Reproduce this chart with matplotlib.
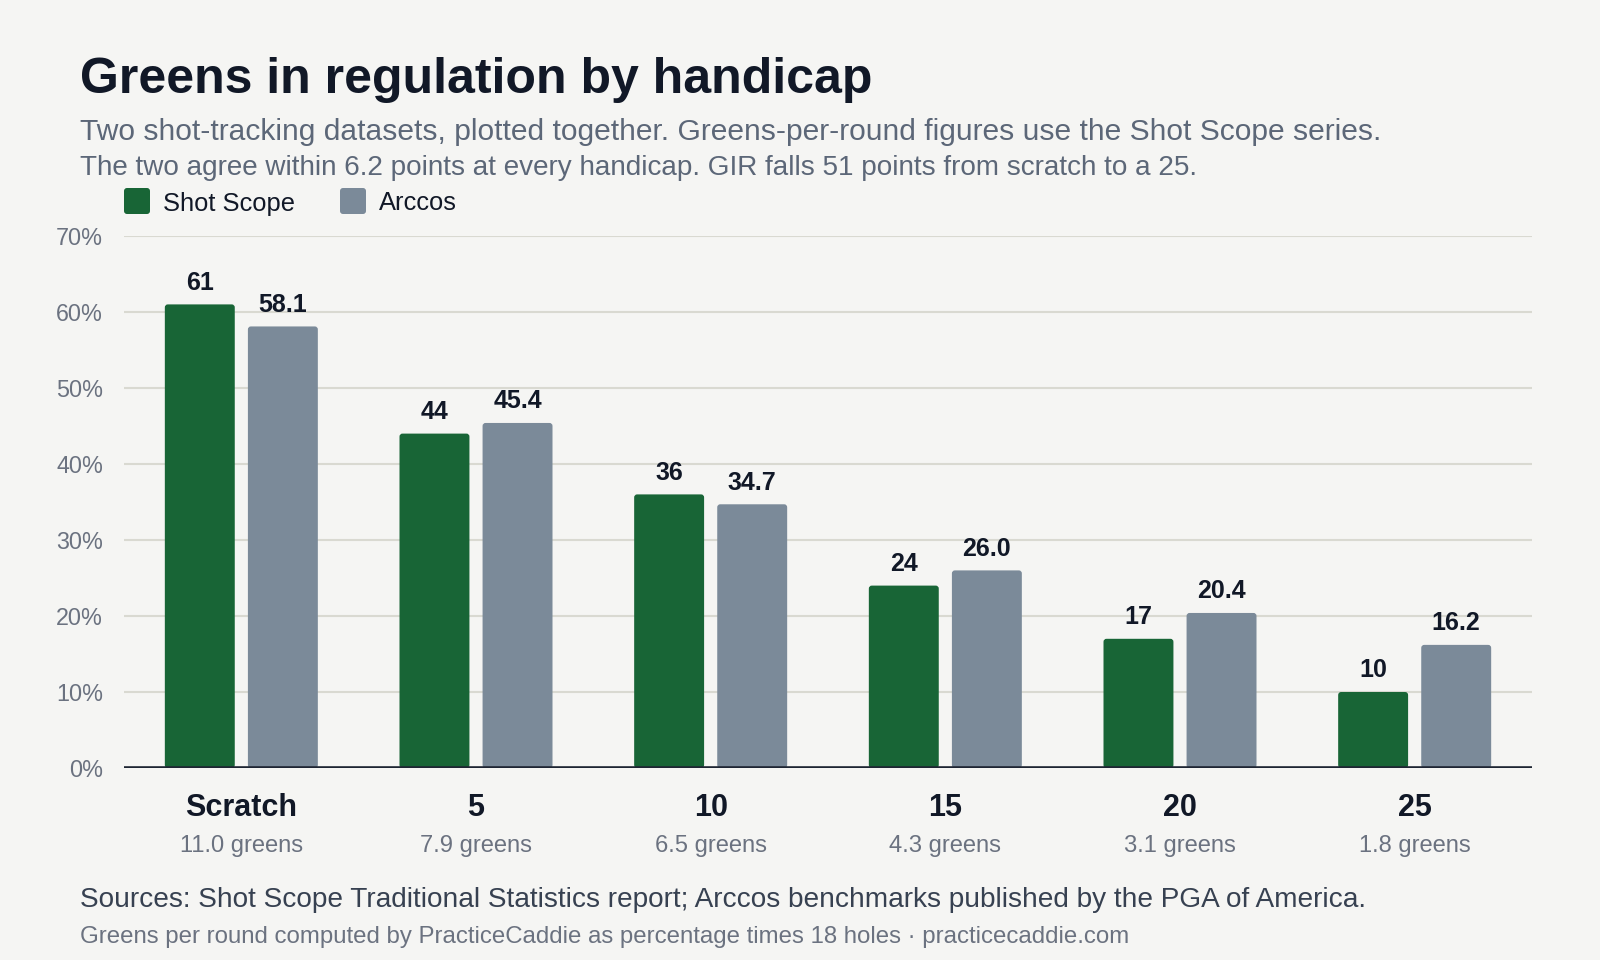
import matplotlib
matplotlib.use("Agg")
import matplotlib.pyplot as plt
from matplotlib.patches import FancyBboxPatch
from matplotlib.transforms import IdentityTransform
import numpy as np

plt.rcParams['font.family'] = ['Liberation Sans', 'DejaVu Sans']

# ---- data ----
categories = ["Scratch", "5", "10", "15", "20", "25"]
shot_scope = [61, 44, 36, 24, 17, 10]
arccos = [58.1, 45.4, 34.7, 26.0, 20.4, 16.2]
greens_per_round = [11.0, 7.9, 6.5, 4.3, 3.1, 1.8]
series_names = ["Shot Scope", "Arccos"]
y_ticks = [0, 10, 20, 30, 40, 50, 60, 70]

# ---- style ----
BG = "#f5f5f3"
GREEN = "#186536"
GREY = "#7b8a99"
DARK = "#111827"
SUB = "#5c6778"
TICK = "#6b7280"
GRID = "#d9d9d1"

W, H = 1600, 960
fig = plt.figure(figsize=(W / 100, H / 100), dpi=100, facecolor=BG)

def fy(px):
    return 1 - px / H

def fx(px):
    return px / W

ax_left, ax_right, ax_top, ax_bot = 124, 1532, 236, 768
ax = fig.add_axes([fx(ax_left), fy(ax_bot), (ax_right - ax_left) / W, (ax_bot - ax_top) / H])
ax.set_facecolor(BG)

x = np.arange(len(categories))
bw = 0.298
off = 0.177

b1 = ax.bar(x - off, shot_scope, width=bw, color=GREEN, zorder=3)
b2 = ax.bar(x + off, arccos, width=bw, color=GREY, zorder=3)

ax.set_xlim(-0.5, len(categories) - 0.5)
ax.set_ylim(0, 70)

# rounded corners: replace rectangles by rounded boxes in data coords
ax_w_px = ax_right - ax_left
ax_h_px = ax_bot - ax_top
x_per_px = (len(categories)) / ax_w_px
y_per_px = 70 / ax_h_px
r_px = 3.0
for cont, col in ((b1, GREEN), (b2, GREY)):
    for rect in cont.patches:
        rect.set_visible(False)
        bx, by = rect.get_xy()
        p = FancyBboxPatch((bx, by), rect.get_width(), rect.get_height(),
                           boxstyle=f"round,pad=0,rounding_size={r_px * x_per_px}",
                           mutation_aspect=y_per_px / x_per_px,
                           facecolor=col, edgecolor="none", zorder=3)
        ax.add_patch(p)

# value labels
for xs, vals, fmt in ((x - off, shot_scope, "{:.0f}"), (x + off, arccos, "{:.1f}")):
    for xi, v in zip(xs, vals):
        ax.annotate(fmt.format(v), (xi, v), xytext=(0, 10.5), textcoords="offset points",
                    ha="center", va="baseline", fontsize=18, fontweight="bold",
                    color=DARK, zorder=4)

# grid
ax.set_yticks(y_ticks)
ax.set_yticklabels([f"{t}%" for t in y_ticks])
ax.tick_params(axis="y", length=0, pad=15, labelsize=16.8, labelcolor=TICK)
ax.grid(axis="y", color=GRID, linewidth=1.5, zorder=0)
ax.set_xticks([])
for s in ax.spines.values():
    s.set_visible(False)
ax.axhline(0, color="#1e2533", linewidth=2.6, zorder=5)

# category labels
tr = ax.get_xaxis_transform()
for xi, c, g in zip(x, categories, greens_per_round):
    ax.text(xi, -48 / ax_h_px, c, transform=tr, ha="center", va="baseline",
            fontsize=22, fontweight="bold", color=DARK)
    ax.text(xi, -84 / ax_h_px, f"{g:.1f} greens", transform=tr, ha="center",
            va="baseline", fontsize=17.1, color=TICK)

# title and subtitle
fig.text(fx(80), fy(93), "Greens in regulation by handicap", fontsize=36,
         fontweight="bold", color=DARK, va="baseline", ha="left")
fig.text(fx(80), fy(140), "Two shot-tracking datasets, plotted together. Greens-per-round figures use the Shot Scope series.",
         fontsize=21.6, color=SUB, va="baseline", ha="left")
fig.text(fx(80), fy(175), "The two agree within 6.2 points at every handicap. GIR falls 51 points from scratch to a 25.",
         fontsize=20.1, color=SUB, va="baseline", ha="left")

# legend
leg_items = [(124, GREEN, series_names[0], 163), (340, GREY, series_names[1], 379)]
for sx, col, name, tx in leg_items:
    p = FancyBboxPatch((sx, H - 214), 26, 26, boxstyle="round,pad=0,rounding_size=3",
                       facecolor=col, edgecolor="none", transform=IdentityTransform())
    fig.patches.append(p)
    fig.text(fx(tx), fy(201), name, fontsize=18.4, color=DARK, va="center_baseline", ha="left")

# footer
fig.text(fx(80), fy(907), "Sources: Shot Scope Traditional Statistics report; Arccos benchmarks published by the PGA of America.",
         fontsize=20.2, color="#374151", va="baseline", ha="left")
fig.text(fx(80), fy(943), "Greens per round computed by PracticeCaddie as percentage times 18 holes \u00b7 practicecaddie.com",
         fontsize=17.25, color=TICK, va="baseline", ha="left")

fig.savefig("out.png", dpi=100, facecolor=BG)
